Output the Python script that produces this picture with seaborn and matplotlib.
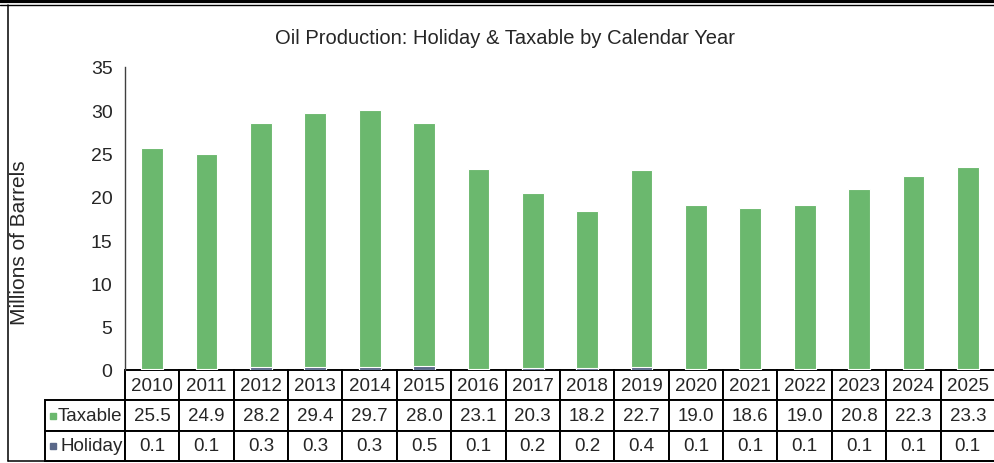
import numpy as np
import pandas as pd
import matplotlib
matplotlib.use("Agg")
import matplotlib.pyplot as plt
import seaborn as sns
from matplotlib.lines import Line2D

# chart values
years = ["2010", "2011", "2012", "2013", "2014", "2015", "2016", "2017",
         "2018", "2019", "2020", "2021", "2022", "2023", "2024", "2025"]
taxable = [25.5, 24.9, 28.2, 29.4, 29.7, 28.0, 23.1, 20.3,
           18.2, 22.7, 19.0, 18.6, 19.0, 20.8, 22.3, 23.3]
holiday = [0.1, 0.1, 0.3, 0.3, 0.3, 0.5, 0.1, 0.2,
           0.2, 0.4, 0.1, 0.1, 0.1, 0.1, 0.1, 0.1]
series_names = ["Taxable", "Holiday"]

green = "#6BB86E"
slate = "#5A6889"

sns.set_style("white")
plt.rcParams["font.family"] = ["Liberation Sans", "DejaVu Sans"]

df = pd.DataFrame({"year": years, "Taxable": taxable, "Holiday": holiday})
df["total"] = df["Taxable"] + df["Holiday"]

W, H = 995, 464
fig = plt.figure(figsize=(W / 100, H / 100), dpi=100)
ax = fig.add_axes([125 / W, 93 / H, 870 / W, 303 / H])

# stacked: holiday at the bottom, taxable above it
sns.barplot(data=df, x="year", y="total", color=green, saturation=1,
            width=0.4, errorbar=None, edgecolor="white", linewidth=0.8, ax=ax)
sns.barplot(data=df, x="year", y="Holiday", color=slate, saturation=1,
            width=0.4, errorbar=None, edgecolor="white", linewidth=0.8, ax=ax)

ax.set_xlim(-0.5, len(years) - 0.5)
ax.set_ylim(0, 35)
ax.set_yticks(range(0, 36, 5))
ax.set_xlabel("")
ax.set_xticks([])
ax.tick_params(axis="y", direction="out", length=5, width=1, color="#404040",
               labelsize=14, pad=4)
for s in ["top", "right", "bottom"]:
    ax.spines[s].set_visible(False)
ax.spines["left"].set_color("#404040")
ax.spines["left"].set_linewidth(1)

ax.set_ylabel("Millions of Barrels", fontsize=15)
ax.yaxis.set_label_coords(-(125 - 29) / 870, (371 - 243) / 303)

fig.text(505 / W, 1 - 38 / H, "Oil Production: Holiday & Taxable by Calendar Year",
         ha="center", va="center", fontsize=14.5)

# data table under the plot
rows = [[""] + years,
        ["Taxable"] + [f"{v:.1f}" for v in taxable],
        ["Holiday"] + [f"{v:.1f}" for v in holiday]]
label_w = 80 / 870
tab_h = 91 / 303
col_w = [label_w] + [1 / len(years)] * len(years)
tbl = ax.table(cellText=rows, colWidths=col_w, cellLoc="center",
               bbox=[-label_w, -tab_h, 1 + label_w, tab_h])
tbl.auto_set_font_size(False)
tbl.set_fontsize(13.5)
for (r, c), cell in tbl.get_celld().items():
    cell.set_linewidth(1.4)
    cell.set_edgecolor("black")
    if r == 0 and c == 0:
        cell.visible_edges = ""
    if c == 0 and r > 0:
        cell._loc = "right"
        cell.PAD = 0.03
        cell.get_text().set_ha("right")

# legend squares in the row labels
for i, col in enumerate([green, slate]):
    ax.plot([-label_w + 8 / 870], [-tab_h + (1.5 - i) * tab_h / 3],
            marker="s", ms=4.5, color=col, transform=ax.transAxes, clip_on=False)

# outer chart frame
fig.add_artist(Line2D([0, 1], [1 - 2 / H, 1 - 2 / H], color="black", lw=3))
fig.add_artist(Line2D([0, 1], [1 - 5.5 / H, 1 - 5.5 / H], color="black", lw=1))
fig.add_artist(Line2D([8 / W, 8 / W], [2 / H, 1 - 6 / H], color="black", lw=1.1))
fig.add_artist(Line2D([8 / W, 1], [2 / H, 2 / H], color="black", lw=1.1))

fig.savefig("out.png", dpi=100)
